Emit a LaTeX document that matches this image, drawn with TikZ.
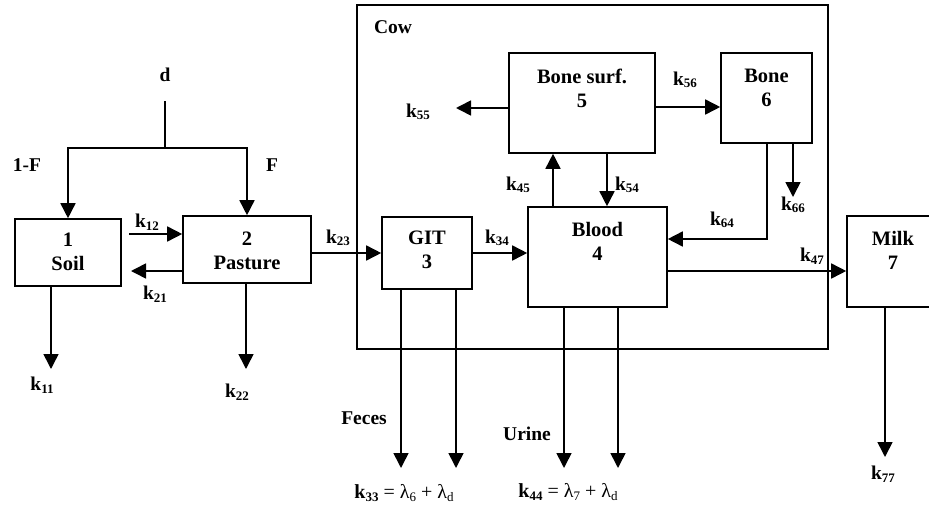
\documentclass[tikz,border=0pt]{standalone}
\usepackage{fontspec}
\setmainfont{Liberation Serif}
\usetikzlibrary{arrows.meta}
\newcommand{\kk}[1]{{\fontsize{19.5}{22}\selectfont k}\raisebox{-2.5pt}{\fontsize{13}{15}\selectfont #1}}
\newcommand{\lsub}[1]{\raisebox{-2.5pt}{\fontsize{13}{15}\selectfont #1}}
\begin{document}
\begin{tikzpicture}[x=1pt,y=-1pt,
  box/.style={draw, line width=1.6pt, inner sep=0pt},
  txt/.style={font=\bfseries\fontsize{20.5}{24}\selectfont, align=center, inner sep=0pt},
  lbl/.style={font=\bfseries\fontsize{19.5}{22}\selectfont, inner sep=0pt},
  flow/.style={line width=1.6pt, -{Triangle[length=15pt,width=15pt]}},
  plain/.style={line width=1.6pt}]
\useasboundingbox (0,0) rectangle (929,506);
\clip (0,0) rectangle (929,506);

% boxes
\node[box, minimum width=471pt, minimum height=344pt] (cow) at (592.5,177) {};
\node[box, minimum width=106pt, minimum height=67pt] (soil) at (68,252.5) {};
\node[box, minimum width=128pt, minimum height=67pt] (pasture) at (247,249.5) {};
\node[box, minimum width=90pt, minimum height=72pt] (git) at (427,253) {};
\node[box, minimum width=139pt, minimum height=100pt] (blood) at (597.5,257) {};
\node[box, minimum width=146pt, minimum height=100pt] (bonesurf) at (582,103) {};
\node[box, minimum width=91pt, minimum height=90pt] (bone) at (766.5,98) {};
\node[box, minimum width=92pt, minimum height=91pt] (milk) at (893,261.5) {};

% box texts
\node[txt] (soilt) at (68,252) {1\\Soil};
\node[txt] (pasturet) at (247,250.5) {2\\Pasture};
\node[txt] (gitt) at (427,250) {GIT\\3};
\node[txt] (bloodt) at (597.5,241) {Blood\\4};
\node[txt] (bonesurft) at (582,88.5) {Bone surf.\\5};
\node[txt] (bonet) at (766.5,87.5) {Bone\\6};
\node[txt] (milkt) at (893,250.5) {Milk\\7};

% coordinates
\coordinate (dtop) at (165,101);
\coordinate (dsplit) at (165,148);
\coordinate (k12s) at (129,234);
\coordinate (k21e) at (131,271);
\coordinate (c45) at (553,0);
\coordinate (c54) at (607,0);
\coordinate (k55e) at (456,108);
\coordinate (c56) at (0,107);
\coordinate (c64) at (767,239);
\coordinate (c66) at (793,197);
\coordinate (c47) at (0,271);
\coordinate (c11) at (51,369);
\coordinate (c22) at (246,369);
\coordinate (g1) at (401,468);
\coordinate (g2) at (456,468);
\coordinate (b1) at (564,468);
\coordinate (b2) at (618,468);
\coordinate (m1) at (885,457);

% connectors
\draw[plain] (dtop) -- (dsplit);
\draw[flow] (dsplit) -| (soil.north);
\draw[flow] (dsplit) -| (pasture.north);
\draw[flow] (k12s) -- (k12s -| pasture.west);
\draw[flow] (k21e -| pasture.west) -- (k21e);
\draw[flow] (pasture.east |- git.west) -- (git.west);
\draw[flow] (git.east) -- (blood.west |- git.east);
\draw[flow] (c45 |- blood.north) -- (c45 |- bonesurf.south);
\draw[flow] (c54 |- bonesurf.south) -- (c54 |- blood.north);
\draw[flow] (k55e -| bonesurf.west) -- (k55e);
\draw[flow] (bonesurf.east |- c56) -- (bone.west |- c56);
\draw[flow] (c64 |- bone.south) -- (c64) -- (c64 -| blood.east);
\draw[flow] (c66 |- bone.south) -- (c66);
\draw[flow] (blood.east |- c47) -- (milk.west |- c47);
\draw[flow] (c11 |- soil.south) -- (c11);
\draw[flow] (c22 |- pasture.south) -- (c22);
\draw[flow] (g1 |- git.south) -- (g1);
\draw[flow] (g2 |- git.south) -- (g2);
\draw[flow] (b1 |- blood.south) -- (b1);
\draw[flow] (b2 |- blood.south) -- (b2);
\draw[flow] (m1 |- milk.south) -- (m1);

% labels
\node[lbl] (ld) at (165,75) {d};
\node[lbl] (l1f) at (27,165) {1-F};
\node[lbl] (lf) at (272,165) {F};
\node[lbl] (lcow) at (393,27) {Cow};
\node[lbl] (lfeces) at (364,418) {Feces};
\node[lbl] (lurine) at (527,434) {Urine};
\node[lbl] (l12) at (147,222) {\kk{12}};
\node[lbl] (l21) at (155,294) {\kk{21}};
\node[lbl] (l23) at (338,238) {\kk{23}};
\node[lbl] (l34) at (497,238) {\kk{34}};
\node[lbl] (l45) at (518,185) {\kk{45}};
\node[lbl] (l54) at (627,185) {\kk{54}};
\node[lbl] (l55) at (418,112) {\kk{55}};
\node[lbl] (l56) at (685,80) {\kk{56}};
\node[lbl] (l64) at (722,220) {\kk{64}};
\node[lbl] (l66) at (793,205) {\kk{66}};
\node[lbl] (l47) at (812,256) {\kk{47}};
\node[lbl] (l11) at (42,385) {\kk{11}};
\node[lbl] (l22) at (237,392) {\kk{22}};
\node[lbl] (l77) at (883,474) {\kk{77}};
\node[inner sep=0pt, font=\fontsize{20}{24}\selectfont] (l33) at (404,493)
  {\textbf{k}\lsub{\textbf{33}} = λ\lsub{6} + λ\lsub{d}};
\node[inner sep=0pt, font=\fontsize{20}{24}\selectfont] (l44) at (568,492)
  {\textbf{k}\lsub{\textbf{44}} = λ\lsub{7} + λ\lsub{d}};
\end{tikzpicture}
\end{document}
